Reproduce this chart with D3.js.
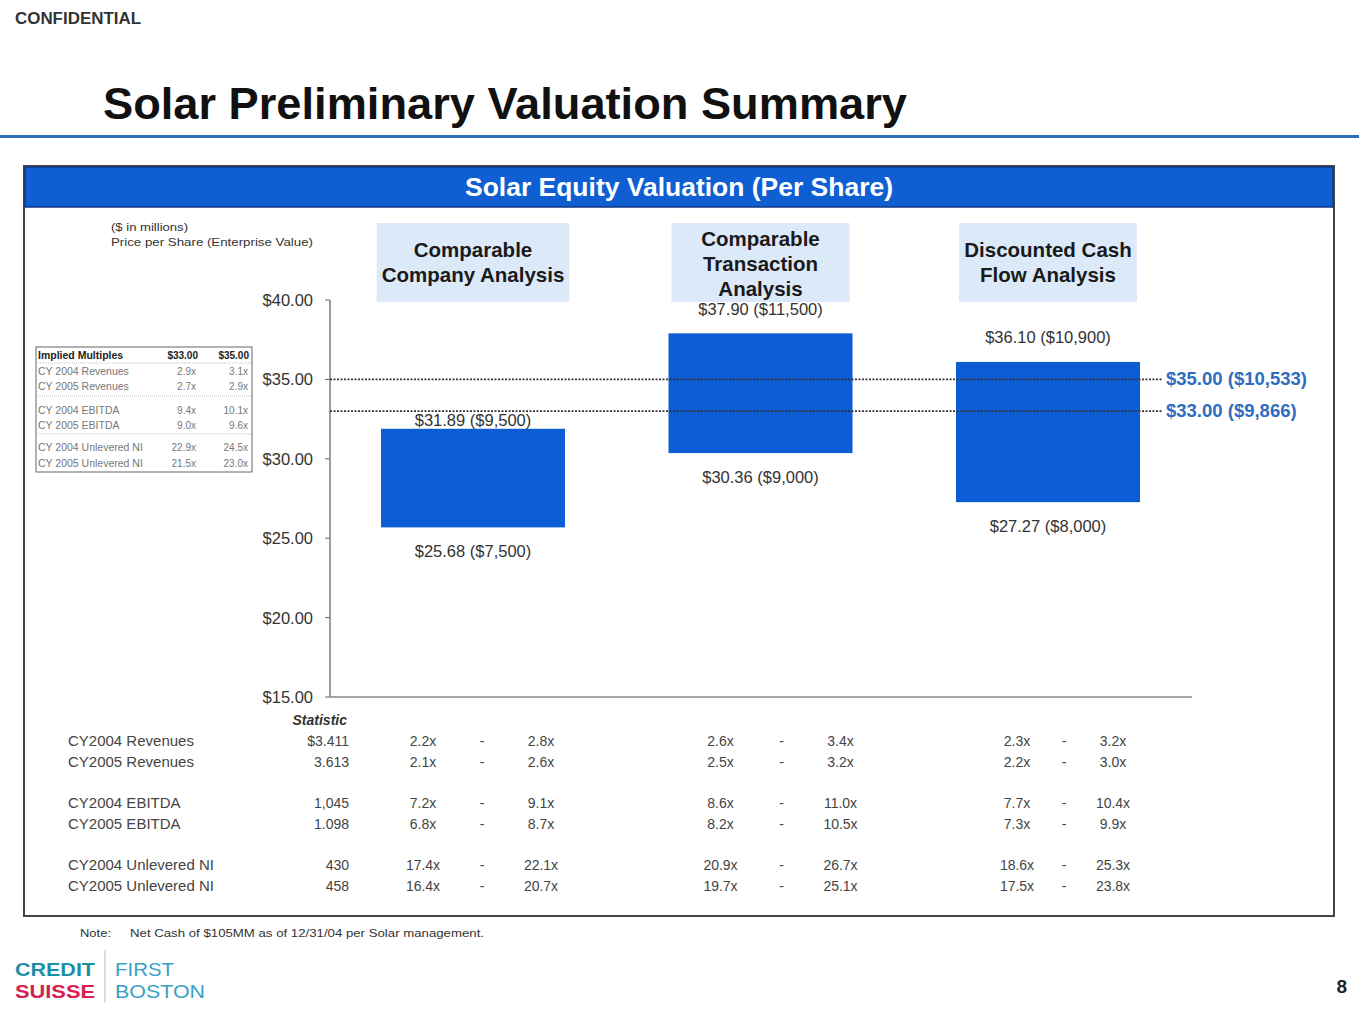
<!DOCTYPE html>
<html><head><meta charset="utf-8">
<script src="https://cdn.jsdelivr.net/npm/d3@7/dist/d3.min.js"></script>
<style>
body{margin:0;background:#fff;}
svg{display:block;font-family:"Liberation Sans",Arial,sans-serif;}
</style></head>
<body>
<svg id="c" width="1359" height="1020"></svg>
<script>
// ---------- DATA ----------
const methods = ["Comparable Company Analysis","Comparable Transaction Analysis","Discounted Cash Flow Analysis"];
const methodTitleLines = [["Comparable","Company Analysis"],["Comparable","Transaction","Analysis"],["Discounted Cash","Flow Analysis"]];
const lowValues = [25.68, 30.36, 27.27];
const highValues = [31.89, 37.90, 36.10];
const lowEV = ["$7,500","$9,000","$8,000"];
const highEV = ["$9,500","$11,500","$10,900"];
const refPrices = [35.00, 33.00];
const refEV = ["$10,533","$9,866"];
const yTicks = [15, 20, 25, 30, 35, 40];

const statLabels = ["CY2004 Revenues","CY2005 Revenues","CY2004 EBITDA","CY2005 EBITDA","CY2004 Unlevered NI","CY2005 Unlevered NI"];
const statValues = ["$3.411","3.613","1,045","1.098","430","458"];
const multLow = [["2.2x","2.1x","7.2x","6.8x","17.4x","16.4x"],["2.6x","2.5x","8.6x","8.2x","20.9x","19.7x"],["2.3x","2.2x","7.7x","7.3x","18.6x","17.5x"]];
const multHigh = [["2.8x","2.6x","9.1x","8.7x","22.1x","20.7x"],["3.4x","3.2x","11.0x","10.5x","26.7x","25.1x"],["3.2x","3.0x","10.4x","9.9x","25.3x","23.8x"]];

const impliedHeader = ["Implied Multiples","$33.00","$35.00"];
const impliedLabels = ["CY 2004 Revenues","CY 2005 Revenues","CY 2004 EBITDA","CY 2005 EBITDA","CY 2004 Unlevered NI","CY 2005 Unlevered NI"];
const implied33 = ["2.9x","2.7x","9.4x","9.0x","22.9x","21.5x"];
const implied35 = ["3.1x","2.9x","10.1x","9.6x","24.5x","23.0x"];

// ---------- LAYOUT ----------
const svg = d3.select("#c");
const blue = "#0b5cd5";
const fmt = d => "$" + d3.format(".2f")(d);

// header texts
svg.append("text").attr("x",15).attr("y",24).attr("font-size",16).attr("font-weight","bold").attr("fill","#333")
  .attr("textLength",126).attr("lengthAdjust","spacingAndGlyphs").text("CONFIDENTIAL");
svg.append("text").attr("x",103).attr("y",119).attr("font-size",44).attr("font-weight","bold").attr("fill","#111")
  .attr("textLength",804).attr("lengthAdjust","spacingAndGlyphs").text("Solar Preliminary Valuation Summary");
svg.append("rect").attr("x",0).attr("y",135).attr("width",1359).attr("height",3).attr("fill","#2f6fba");

// frame
svg.append("rect").attr("x",24).attr("y",166).attr("width",1310).attr("height",750).attr("fill","#fff").attr("stroke","#444").attr("stroke-width",2);
svg.append("rect").attr("x",25).attr("y",167).attr("width",1308).attr("height",40).attr("fill","#0f5fd3").attr("stroke","#123a80").attr("stroke-width",1.5);
svg.append("text").attr("x",465).attr("y",196).attr("font-size",26).attr("font-weight","bold").attr("fill","#fff")
  .attr("textLength",428).attr("lengthAdjust","spacingAndGlyphs").text("Solar Equity Valuation (Per Share)");

svg.append("text").attr("x",111).attr("y",231).attr("font-size",11).attr("fill","#333")
  .attr("textLength",77).attr("lengthAdjust","spacingAndGlyphs").text("($ in millions)");
svg.append("text").attr("x",111).attr("y",246).attr("font-size",11).attr("fill","#333")
  .attr("textLength",202).attr("lengthAdjust","spacingAndGlyphs").text("Price per Share (Enterprise Value)");

// scales
const y = d3.scaleLinear().domain([15,40]).range([697,300]);
const x = d3.scalePoint().domain(methods).range([473,1048]);
const barW = 184;

// y axis
const axisX = 330;
svg.append("line").attr("x1",axisX).attr("x2",axisX).attr("y1",y(40)).attr("y2",y(15)).attr("stroke","#666").attr("stroke-width",1.3);
svg.append("line").attr("x1",axisX).attr("x2",1192).attr("y1",y(15)).attr("y2",y(15)).attr("stroke","#888").attr("stroke-width",1.3);
const tk = svg.append("g").selectAll("g").data(yTicks).join("g");
tk.append("line").attr("x1",axisX-5).attr("x2",axisX).attr("y1",d=>y(d)).attr("y2",d=>y(d)).attr("stroke","#666");
tk.append("text").attr("x",313).attr("y",d=>y(d)+6).attr("text-anchor","end").attr("font-size",16.5).attr("fill","#333").text(fmt);

// header boxes
methods.forEach((m,i)=>{
  const lines = methodTitleLines[i];
  const g = svg.append("g");
  const txt = g.append("g");
  const lh = 25;
  const cy = lines.length===3 ? 264 : 262;
  lines.forEach((l,j)=>{
    txt.append("text").attr("x",x(m)).attr("y",cy + (j-(lines.length-1)/2)*lh + 7)
      .attr("text-anchor","middle").attr("font-size",20.5).attr("font-weight","bold").attr("fill","#1a1a1a").text(l);
  });
  const bb = txt.node().getBBox();
  const w = Math.max(178, bb.width+10);
  g.insert("rect",":first-child").attr("x",x(m)-w/2).attr("y",223).attr("width",w).attr("height",79).attr("fill","#dbe9f8");
});

// bars
svg.append("g").selectAll("rect").data(methods).join("rect")
  .attr("x",d=>x(d)-barW/2).attr("width",barW)
  .attr("y",(d,i)=>y(highValues[i])).attr("height",(d,i)=>y(lowValues[i])-y(highValues[i]))
  .attr("fill",blue);

// reference lines
const rg = svg.append("g").selectAll("g").data(refPrices).join("g");
rg.append("line").attr("x1",axisX).attr("x2",1162).attr("y1",d=>y(d)).attr("y2",d=>y(d))
  .attr("stroke","#333").attr("stroke-width",1.6).attr("stroke-dasharray","2,1.5");
rg.append("text").attr("x",1166).attr("y",d=>y(d)+6).attr("font-size",18.5).attr("font-weight","bold").attr("fill","#2e6cc2")
  .text((d,i)=>`${fmt(d)} (${refEV[i]})`);

// bar labels
const hiGap = [3, 18, 19];
svg.append("g").selectAll("text").data(methods).join("text")
  .attr("x",d=>x(d)).attr("y",(d,i)=>y(highValues[i])-hiGap[i])
  .attr("text-anchor","middle").attr("font-size",16.5).attr("fill","#333")
  .text((d,i)=>`${fmt(highValues[i])} (${highEV[i]})`);
svg.append("g").selectAll("text").data(methods).join("text")
  .attr("x",d=>x(d)).attr("y",(d,i)=>y(lowValues[i])+30)
  .attr("text-anchor","middle").attr("font-size",16.5).attr("fill","#333")
  .text((d,i)=>`${fmt(lowValues[i])} (${lowEV[i]})`);

// implied multiples mini table
const mt = svg.append("g");
mt.append("rect").attr("x",36).attr("y",347).attr("width",216).attr("height",125).attr("fill","#fff").attr("stroke","#666").attr("stroke-width",1);
const mRowY = [371,386,410,425,447,463];
mt.append("text").attr("x",38).attr("y",359).attr("font-size",10.5).attr("font-weight","bold").attr("fill","#222").text(impliedHeader[0]);
mt.append("text").attr("x",198).attr("y",359).attr("text-anchor","end").attr("font-size",10).attr("font-weight","bold").attr("fill","#222").text(impliedHeader[1]);
mt.append("text").attr("x",249).attr("y",359).attr("text-anchor","end").attr("font-size",10).attr("font-weight","bold").attr("fill","#222").text(impliedHeader[2]);
[363,396,434].forEach(ly=>mt.append("line").attr("x1",36).attr("x2",252).attr("y1",ly).attr("y2",ly).attr("stroke","#aaa").attr("stroke-width",0.7).attr("stroke-dasharray","1,1"));
impliedLabels.forEach((l,i)=>{
  mt.append("text").attr("x",38).attr("y",mRowY[i]+3.5).attr("font-size",10.5).attr("fill","#777").text(l);
  mt.append("text").attr("x",196).attr("y",mRowY[i]+3.5).attr("text-anchor","end").attr("font-size",10).attr("fill","#777").text(implied33[i]);
  mt.append("text").attr("x",248).attr("y",mRowY[i]+3.5).attr("text-anchor","end").attr("font-size",10).attr("fill","#777").text(implied35[i]);
});

// bottom statistic table
const rowY = [741,762,803,824,865,886];
const bt = svg.append("g").attr("font-size",15).attr("fill","#444");
bt.append("text").attr("x",347).attr("y",725).attr("text-anchor","end").attr("font-size",14).attr("font-style","italic").attr("font-weight","bold").attr("fill","#333").text("Statistic");
statLabels.forEach((l,i)=>{
  bt.append("text").attr("x",68).attr("y",rowY[i]+5).text(l);
  bt.append("text").attr("x",349).attr("y",rowY[i]+5).attr("text-anchor","end").attr("font-size",14).text(statValues[i]);
});
const colOff = [{lo:-50,dash:9,hi:68},{lo:-40,dash:21,hi:80},{lo:-31,dash:16,hi:65}];
methods.forEach((m,k)=>{
  statLabels.forEach((l,i)=>{
    bt.append("text").attr("x",x(m)+colOff[k].lo).attr("y",rowY[i]+5).attr("text-anchor","middle").attr("font-size",14).text(multLow[k][i]);
    bt.append("text").attr("x",x(m)+colOff[k].dash).attr("y",rowY[i]+5).attr("text-anchor","middle").attr("font-size",14).text("-");
    bt.append("text").attr("x",x(m)+colOff[k].hi).attr("y",rowY[i]+5).attr("text-anchor","middle").attr("font-size",14).text(multHigh[k][i]);
  });
});

// footnote
svg.append("text").attr("x",80).attr("y",937).attr("font-size",11).attr("fill","#333")
  .attr("textLength",31).attr("lengthAdjust","spacingAndGlyphs").text("Note:");
svg.append("text").attr("x",130).attr("y",937).attr("font-size",11).attr("fill","#333")
  .attr("textLength",354).attr("lengthAdjust","spacingAndGlyphs").text("Net Cash of $105MM as of 12/31/04 per Solar management.");

// logo
svg.append("text").attr("x",15).attr("y",976).attr("font-size",19).attr("font-weight","bold").attr("fill","#1e8ea6")
  .attr("textLength",80).attr("lengthAdjust","spacingAndGlyphs").text("CREDIT");
svg.append("text").attr("x",15).attr("y",998).attr("font-size",19).attr("font-weight","bold").attr("fill","#d6204f")
  .attr("textLength",80).attr("lengthAdjust","spacingAndGlyphs").text("SUISSE");
svg.append("line").attr("x1",105).attr("x2",105).attr("y1",950).attr("y2",1003).attr("stroke","#bbb");
svg.append("text").attr("x",115).attr("y",976).attr("font-size",19).attr("fill","#3a9fc4")
  .attr("textLength",59).attr("lengthAdjust","spacingAndGlyphs").text("FIRST");
svg.append("text").attr("x",115).attr("y",998).attr("font-size",19).attr("fill","#3a9fc4")
  .attr("textLength",90).attr("lengthAdjust","spacingAndGlyphs").text("BOSTON");

svg.append("text").attr("x",1347).attr("y",993).attr("text-anchor","end").attr("font-size",19).attr("font-weight","bold").attr("fill","#222").text("8");
</script>
</body></html>
